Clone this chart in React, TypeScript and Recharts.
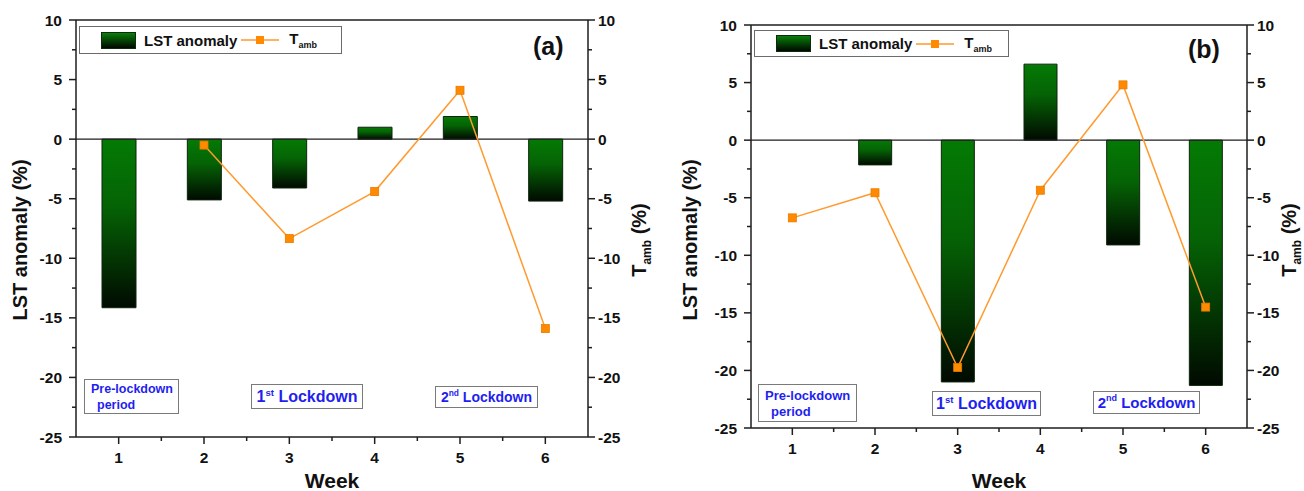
import React from 'react';
import { ComposedChart, Bar, Line, XAxis, YAxis, ReferenceLine } from 'recharts';

const weeks = [1, 2, 3, 4, 5, 6];
const lstA = [-14.15, -5.1, -4.1, 1.0, 1.9, -5.2];
const tambA = [null, -0.5, -8.35, -4.4, 4.1, -15.9];
const lstB = [null, -2.15, -21.0, 6.6, -9.1, -21.3];
const tambB = [-6.75, -4.57, -19.75, -4.35, 4.8, -14.5];

const xTicks = [1, 1.5, 2, 2.5, 3, 3.5, 4, 4.5, 5, 5.5, 6];
const yTicks = [10, 7.5, 5, 2.5, 0, -2.5, -5, -7.5, -10, -12.5, -15, -17.5, -20, -22.5, -25];

const FONT = '"Liberation Sans", Arial, Helvetica, sans-serif';
const AXIS = '#1e1e1e';
const BLUE = '#1f1ff0';
const ORANGE = '#ff9a2e';
const TICK_FONT = 15.5;

const T_SIZE = 7;
const X_GAP = 8;
const L_GAP = 7;
const R_GAP = 3;

const XTick = (props: any) => {
  const { x, y, payload } = props;
  const v = payload.value;
  const major = Number.isInteger(v);
  const axisY = y - T_SIZE - X_GAP;
  return (
    <g>
      <line x1={x} x2={x} y1={axisY} y2={axisY + (major ? 7 : 4)} stroke={AXIS} strokeWidth={1.5} />
      {major && (
        <text x={x} y={y} dy="0.71em" textAnchor="middle" fontSize={TICK_FONT} fontWeight="bold" fontFamily={FONT} fill="#111">
          {v}
        </text>
      )}
    </g>
  );
};

const LeftTick = (props: any) => {
  const { x, y, payload } = props;
  const v = payload.value;
  const major = v % 5 === 0;
  const axisX = x + T_SIZE + L_GAP;
  return (
    <g>
      <line x1={axisX} x2={axisX - (major ? 7 : 4)} y1={y} y2={y} stroke={AXIS} strokeWidth={1.5} />
      {major && (
        <text x={x} y={y} dy="0.36em" textAnchor="end" fontSize={TICK_FONT} fontWeight="bold" fontFamily={FONT} fill="#111">
          {v}
        </text>
      )}
    </g>
  );
};

const RightTick = (props: any) => {
  const { x, y, payload } = props;
  const v = payload.value;
  const major = v % 5 === 0;
  const axisX = x - T_SIZE - R_GAP;
  return (
    <g>
      <line x1={axisX} x2={axisX + (major ? 7 : 4)} y1={y} y2={y} stroke={AXIS} strokeWidth={1.5} />
      {major && (
        <text x={x} y={y} dy="0.36em" textAnchor="start" fontSize={TICK_FONT} fontWeight="bold" fontFamily={FONT} fill="#111">
          {v}
        </text>
      )}
    </g>
  );
};

const SquareDot = (props: any) => {
  const { cx, cy } = props;
  if (cx == null || cy == null || Number.isNaN(cy)) return null;
  return <rect x={cx - 4} y={cy - 4} width={8} height={8} fill="#ff8a00" stroke="#e87a00" strokeWidth={0.8} />;
};

const LegendBox = ({ left, top, width, height }: { left: number; top: number; width: number; height: number }) => (
  <div
    style={{
      position: 'absolute',
      left,
      top,
      width,
      height,
      boxSizing: 'border-box',
      border: '1.5px solid #6b6b6b',
      background: '#fff',
      display: 'flex',
      alignItems: 'center',
      fontFamily: FONT,
      fontWeight: 'bold',
      fontSize: 15,
      color: '#111',
      paddingLeft: 21,
    }}
  >
    <span
      style={{
        display: 'inline-block',
        width: 35,
        height: 17,
        background: 'linear-gradient(#0a7f0a, #043d04 55%, #010801)',
        border: '1px solid #0c2a0c',
        boxSizing: 'border-box',
      }}
    />
    <span style={{ marginLeft: 8 }}>LST anomaly</span>
    <svg width={38} height={12} style={{ marginLeft: 4 }}>
      <line x1={0} x2={38} y1={6} y2={6} stroke={ORANGE} strokeWidth={1.5} />
      <rect x={15} y={2} width={8} height={8} fill="#ff8a00" />
    </svg>
    <span style={{ marginLeft: 10 }}>
      T<sub style={{ fontSize: 9 }}>amb</sub>
    </span>
  </div>
);

type Box = { left: number; top: number; width: number; height: number; fontSize: number; kind: 'pre' | 'first' | 'second' };

type PanelProps = {
  id: string;
  letter: string;
  lst: (number | null)[];
  tamb: (number | null)[];
  width: number;
  top: number;
  leftW: number;
  rightW: number;
  xH: number;
  barSize: number;
  legend: { left: number; top: number; width: number; height: number };
  letterPos: { left: number; top: number };
  leftTitleX: number;
  rightTitleX: number;
  boxes: Box[];
};

const boxText = (b: Box) => {
  if (b.kind === 'pre')
    return (
      <div style={{ lineHeight: 1.25, paddingLeft: 6, paddingTop: 2 }}>
        Pre-lockdown
        <br />
        <span style={{ paddingLeft: 6 }}>period</span>
      </div>
    );
  const sup = b.kind === 'first' ? 'st' : 'nd';
  const num = b.kind === 'first' ? '1' : '2';
  return (
    <div style={{ width: '100%', textAlign: 'center' }}>
      {num}
      <sup style={{ fontSize: b.fontSize * 0.6, verticalAlign: 'top', lineHeight: 1 }}>{sup}</sup> Lockdown
    </div>
  );
};

const Panel = (p: PanelProps) => {
  const data = weeks.map((w, i) => ({ week: w, lst: p.lst[i], tamb: p.tamb[i] }));
  const height = 491;
  const plotCenterY = 240;
  const plotCenterX = (p.leftW + p.width - p.rightW) / 2;
  const titleStyle: React.CSSProperties = {
    position: 'absolute',
    top: plotCenterY,
    transform: 'translate(-50%, -50%) rotate(-90deg)',
    fontFamily: FONT,
    fontWeight: 'bold',
    fontSize: 20,
    whiteSpace: 'nowrap',
    color: '#111',
  };
  return (
    <div style={{ position: 'relative', width: p.width, height }}>
      <ComposedChart width={p.width} height={height} data={data} margin={{ top: p.top, right: 0, bottom: 0, left: 0 }}>
        <defs>
          <linearGradient id={`grad-${p.id}`} x1="0" y1="0" x2="0" y2="1">
            <stop offset="0%" stopColor="#047a04" />
            <stop offset="40%" stopColor="#056305" />
            <stop offset="100%" stopColor="#010a01" />
          </linearGradient>
        </defs>
        <XAxis
          dataKey="week"
          type="number"
          domain={[0.5, 6.5]}
          ticks={xTicks}
          interval={0}
          height={p.xH}
          tickSize={T_SIZE}
          tickMargin={X_GAP}
          tickLine={false}
          tick={<XTick />}
          axisLine={{ stroke: AXIS, strokeWidth: 1.5 }}
        />
        <YAxis
          yAxisId="left"
          type="number"
          domain={[-25, 10]}
          ticks={yTicks}
          interval={0}
          width={p.leftW}
          tickSize={T_SIZE}
          tickMargin={L_GAP}
          tickLine={false}
          tick={<LeftTick />}
          axisLine={{ stroke: AXIS, strokeWidth: 1.5 }}
        />
        <YAxis
          yAxisId="right"
          orientation="right"
          type="number"
          domain={[-25, 10]}
          ticks={yTicks}
          interval={0}
          width={p.rightW}
          tickSize={T_SIZE}
          tickMargin={R_GAP}
          tickLine={false}
          tick={<RightTick />}
          axisLine={{ stroke: AXIS, strokeWidth: 1.5 }}
        />
        <ReferenceLine yAxisId="left" y={10} stroke={AXIS} strokeWidth={1.5} />
        <Bar
          yAxisId="left"
          dataKey="lst"
          barSize={p.barSize}
          fill={`url(#grad-${p.id})`}
          stroke="#0d250d"
          strokeWidth={1}
          isAnimationActive={false}
        />
        <ReferenceLine yAxisId="left" y={0} stroke={AXIS} strokeWidth={1.3} />
        <Line
          yAxisId="right"
          dataKey="tamb"
          stroke={ORANGE}
          strokeWidth={1.5}
          dot={<SquareDot />}
          activeDot={false}
          connectNulls={false}
          isAnimationActive={false}
        />
      </ComposedChart>

      <LegendBox {...p.legend} />

      <div
        style={{
          position: 'absolute',
          left: p.letterPos.left,
          top: p.letterPos.top,
          fontFamily: FONT,
          fontWeight: 'bold',
          fontSize: 25,
          lineHeight: 1,
          color: '#111',
        }}
      >
        {p.letter}
      </div>

      {p.boxes.map((b, i) => (
        <div
          key={i}
          style={{
            position: 'absolute',
            left: b.left,
            top: b.top,
            width: b.width,
            height: b.height,
            boxSizing: 'border-box',
            border: '1.5px solid #7a7a7a',
            background: '#fff',
            display: 'flex',
            alignItems: 'center',
            fontFamily: FONT,
            fontWeight: 'bold',
            fontSize: b.fontSize,
            color: BLUE,
            whiteSpace: 'nowrap',
          }}
        >
          {boxText(b)}
        </div>
      ))}

      <div style={{ ...titleStyle, left: p.leftTitleX }}>LST anomaly (%)</div>
      <div style={{ ...titleStyle, left: p.rightTitleX }}>
        T<sub style={{ fontSize: 12 }}>amb</sub> (%)
      </div>
      <div
        style={{
          position: 'absolute',
          left: plotCenterX,
          top: 481,
          transform: 'translate(-50%, -50%)',
          fontFamily: FONT,
          fontWeight: 'bold',
          fontSize: 21,
          whiteSpace: 'nowrap',
          color: '#111',
        }}
      >
        Week
      </div>
    </div>
  );
};

const App = () => (
  <div style={{ position: 'absolute', left: 0, top: 0, width: 1304, height: 491, background: '#fff', display: 'flex' }}>
    <Panel
      id="a"
      letter="(a)"
      lst={lstA}
      tamb={tambA}
      width={650}
      top={20}
      leftW={76}
      rightW={62}
      xH={54}
      barSize={34}
      legend={{ left: 79, top: 26, width: 263, height: 28 }}
      letterPos={{ left: 533, top: 34 }}
      leftTitleX={20}
      rightTitleX={641}
      boxes={[
        { left: 84, top: 379, width: 95, height: 35, fontSize: 12.5, kind: 'pre' },
        { left: 251, top: 384, width: 112, height: 25, fontSize: 16, kind: 'first' },
        { left: 435, top: 386, width: 103, height: 22, fontSize: 14, kind: 'second' },
      ]}
    />
    <Panel
      id="b"
      letter="(b)"
      lst={lstB}
      tamb={tambB}
      width={654}
      top={25}
      leftW={101}
      rightW={57}
      xH={63}
      barSize={33}
      legend={{ left: 104, top: 30, width: 255, height: 27 }}
      letterPos={{ left: 538, top: 37 }}
      leftTitleX={40}
      rightTitleX={641}
      boxes={[
        { left: 108, top: 384, width: 99, height: 38, fontSize: 13, kind: 'pre' },
        { left: 282, top: 391, width: 109, height: 25, fontSize: 16, kind: 'first' },
        { left: 443, top: 391, width: 107, height: 23, fontSize: 15, kind: 'second' },
      ]}
    />
  </div>
);

export default App;
